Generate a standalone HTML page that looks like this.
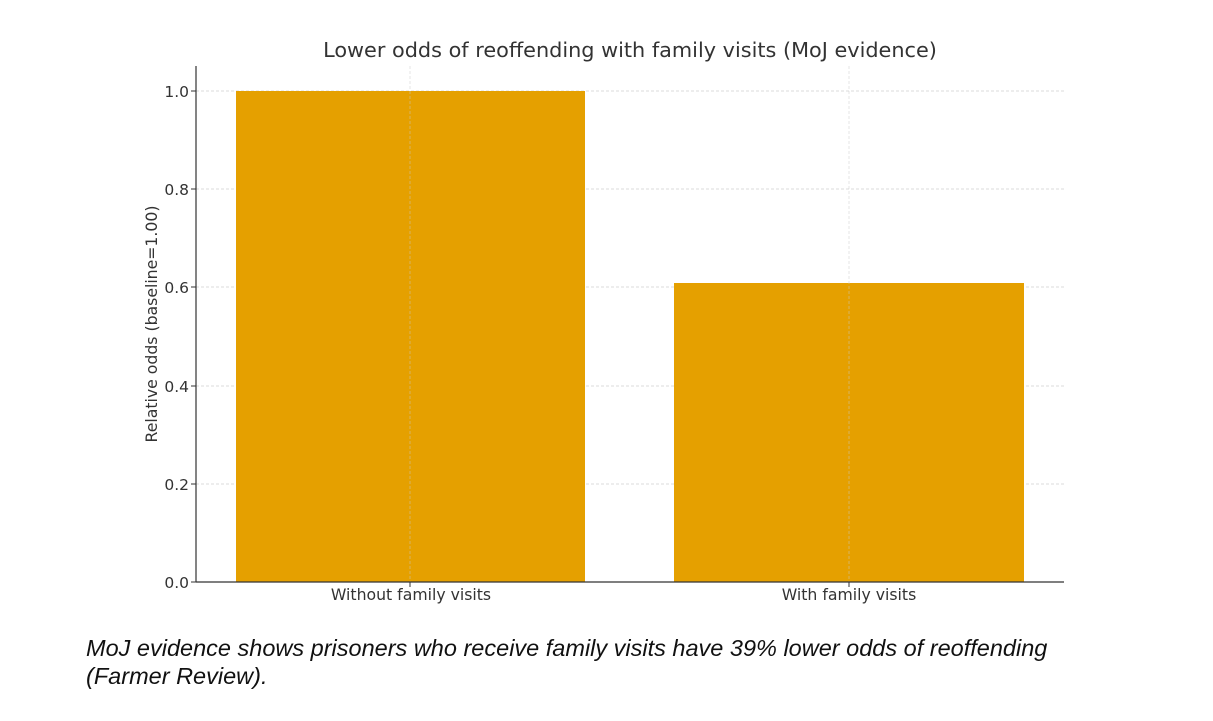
<!DOCTYPE html>
<html><head><meta charset="utf-8"><style>
html,body{margin:0;padding:0;background:#fff;width:1213px;height:721px;overflow:hidden}
</style></head><body>
<svg width="1213" height="721" xmlns="http://www.w3.org/2000/svg" font-family="DejaVu Sans, sans-serif">
<rect width="1213" height="721" fill="#fff"/>
<text x="630" y="57" text-anchor="middle" font-size="20.8" fill="#333">Lower odds of reoffending with family visits (MoJ evidence)</text>
<g stroke="#d0d0d0" stroke-width="0.8" stroke-dasharray="3,2">
<line x1="196" x2="1064" y1="91" y2="91"/>
<line x1="196" x2="1064" y1="189" y2="189"/>
<line x1="196" x2="1064" y1="287" y2="287"/>
<line x1="196" x2="1064" y1="386" y2="386"/>
<line x1="196" x2="1064" y1="484" y2="484"/>
</g>
<rect x="236" y="91" width="349" height="491" fill="#e5a000"/>
<rect x="674" y="283" width="350" height="299" fill="#e5a000"/>
<g stroke="#c8c8c8" stroke-width="0.8" stroke-dasharray="3,2" opacity="0.6">
<line x1="410" x2="410" y1="66" y2="582"/>
<line x1="849" x2="849" y1="66" y2="582"/>
</g>
<line x1="196" x2="196" y1="66" y2="582" stroke="#333" stroke-width="1.2"/>
<line x1="196" x2="1064" y1="582" y2="582" stroke="#333" stroke-width="1.2"/>
<g stroke="#333" stroke-width="1">
<line x1="191" x2="196" y1="91" y2="91"/><line x1="191" x2="196" y1="189" y2="189"/>
<line x1="191" x2="196" y1="287" y2="287"/><line x1="191" x2="196" y1="386" y2="386"/>
<line x1="191" x2="196" y1="484" y2="484"/><line x1="191" x2="196" y1="582" y2="582"/>
<line x1="410" x2="410" y1="582" y2="587"/><line x1="849" x2="849" y1="582" y2="587"/>
</g>
<g font-size="15.5" fill="#333" text-anchor="end">
<text x="189" y="97">1.0</text><text x="189" y="195">0.8</text><text x="189" y="293">0.6</text>
<text x="189" y="392">0.4</text><text x="189" y="490">0.2</text><text x="189" y="588">0.0</text>
</g>
<g font-size="15.7" fill="#333" text-anchor="middle">
<text x="411" y="600">Without family visits</text>
<text x="849" y="600">With family visits</text>
</g>
<text transform="translate(157,324) rotate(-90)" text-anchor="middle" font-size="15.7" fill="#333">Relative odds (baseline=1.00)</text>
<g font-family="Liberation Sans, sans-serif" font-style="italic" font-size="23.5" fill="#111">
<text x="86" y="656">MoJ evidence shows prisoners who receive family visits have 39% lower odds of reoffending</text>
<text x="86" y="684">(Farmer Review).</text>
</g>
</svg>
</body></html>
